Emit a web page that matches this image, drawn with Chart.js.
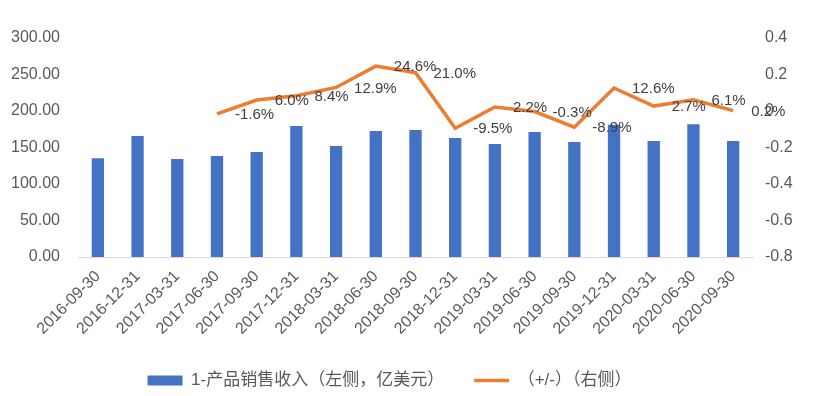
<!DOCTYPE html>
<html>
<head>
<meta charset="utf-8">
<script src="https://cdn.jsdelivr.net/npm/chart.js@4/dist/chart.umd.min.js"></script>
<style>
  html, body { margin: 0; padding: 0; background: #fff; }
  #wrap { width: 817px; height: 396px; }
</style>
</head>
<body>
<div id="wrap"><canvas id="c" width="817" height="396"></canvas></div>
<script>
const categories = ['2016-09-30', '2016-12-31', '2017-03-31', '2017-06-30', '2017-09-30', '2017-12-31',
  '2018-03-31', '2018-06-30', '2018-09-30', '2018-12-31', '2019-03-31', '2019-06-30',
  '2019-09-30', '2019-12-31', '2020-03-31', '2020-06-30', '2020-09-30'];
const revenue = [135.2, 165.8, 134.2, 138.4, 143.8, 179.5, 152.0, 172.6, 174.0, 163.0, 154.8, 171.2,
  157.5, 181.0, 159.0, 182.0, 159.0];
const change = [null, null, null, -0.016, 0.060, 0.084, 0.129, 0.246, 0.210, -0.095, 0.022, -0.003,
  -0.089, 0.126, 0.027, 0.061, 0.002];
const leftTicks = [0, 50, 100, 150, 200, 250, 300];
const rightTicks = [-0.8, -0.6, -0.4, -0.2, 0, 0.2, 0.4];

const FONT = "'Liberation Sans', 'Noto Sans CJK SC', sans-serif";
const TEXT = '#595959';

// labels to the right of each line point, like the original
const pointLabels = {
  id: 'pointLabels',
  afterDatasetsDraw(chart) {
    const meta = chart.getDatasetMeta(1);
    const ctx = chart.ctx;
    ctx.save();
    ctx.font = '15px ' + FONT;
    ctx.fillStyle = '#404040';
    ctx.textAlign = 'left';
    ctx.textBaseline = 'middle';
    meta.data.forEach((pt, i) => {
      const v = change[i];
      if (v === null) return;
      ctx.fillText((v * 100).toFixed(1) + '%', pt.x + 18, pt.y + 1);
    });
    ctx.restore();
  }
};

// the legend in the original sits a bit left of centre and a little lower
const legendShift = {
  id: 'legendShift',
  afterLayout(chart) {
    const lg = chart.legend;
    lg.left -= 19; lg.right -= 19;
    lg.top += 3; lg.bottom += 3;
  }
};

new Chart(document.getElementById('c'), {
  data: {
    labels: categories,
    datasets: [{
      type: 'bar',
      label: '1-产品销售收入（左侧，亿美元）',
      data: revenue,
      backgroundColor: '#4472C4',
      yAxisID: 'y',
      barPercentage: 0.31,
      categoryPercentage: 1,
      pointStyle: 'rect',
      order: 2
    }, {
      type: 'line',
      label: '（+/-）（右侧）',
      data: change,
      borderColor: '#ED7D31',
      backgroundColor: '#ED7D31',
      borderWidth: 3.5,
      pointRadius: 0,
      tension: 0,
      yAxisID: 'y1',
      pointStyle: 'line',
      order: 1
    }]
  },
  options: {
    responsive: false,
    animation: false,
    layout: { padding: { top: 38, bottom: 0, left: 0, right: 0 } },
    plugins: {
      tooltip: { enabled: false },
      legend: {
        position: 'bottom',
        labels: {
          usePointStyle: true,
          pointStyleWidth: 35,
          boxHeight: 10,
          padding: 30,
          color: TEXT,
          font: { size: 17, family: FONT },
          sort: (a, b) => a.datasetIndex - b.datasetIndex
        }
      }
    },
    scales: {
      x: {
        offset: true,
        grid: { display: false },
        border: { display: true, color: '#d9d9d9', width: 1 },
        ticks: {
          autoSkip: false, minRotation: 45, maxRotation: 45,
          color: TEXT, font: { size: 16, family: FONT }, padding: 2
        },
        afterFit(s) { s.height = 82; }
      },
      y: {
        position: 'left',
        min: 0, max: 300,
        afterBuildTicks(s) { s.ticks = leftTicks.map(v => ({ value: v })); },
        grid: { display: false },
        border: { display: false },
        ticks: {
          color: TEXT, font: { size: 16, family: FONT }, padding: 10,
          callback: v => v.toFixed(2)
        },
        afterFit(s) { s.width = 78; }
      },
      y1: {
        position: 'right',
        min: -0.8, max: 0.4,
        afterBuildTicks(s) { s.ticks = rightTicks.map(v => ({ value: v })); },
        grid: { display: false },
        border: { display: false },
        ticks: {
          color: TEXT, font: { size: 16, family: FONT }, padding: 4,
          callback: v => String(parseFloat(v.toFixed(1)))
        },
        afterFit(s) { s.width = 64; }
      }
    }
  },
  plugins: [pointLabels, legendShift]
});
</script>
</body>
</html>
